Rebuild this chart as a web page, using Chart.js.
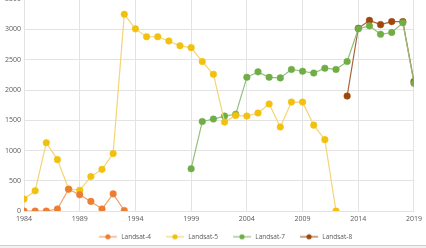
<!DOCTYPE html>
<html>
<head>
<meta charset="utf-8">
<script src="https://cdn.jsdelivr.net/npm/chart.js@4.4.1/dist/chart.umd.min.js"></script>
<style>
  html, body { margin: 0; padding: 0; background: #fff; overflow: hidden; }
  #wrap { position: relative; width: 426px; height: 248px; overflow: hidden; }
  #box { position: absolute; left: 0; top: -8px; width: 426px; height: 258px; }
  #linha { position: absolute; left: 0; top: 245px; width: 426px; height: 3px; background: #f2f2f2; border-top: 1px solid #d0d0d0; }
</style>
</head>
<body>
<div id="wrap">
  <div id="box"><canvas id="grafico"></canvas></div>
  <div id="linha"></div>
</div>
<script>
// anos do eixo x
const anos = []
for (var a = 1984; a <= 2019; a++) anos.push(a)

// valores (null = sem dado)
const landsat4 = [0, 0, 0, 35, 360, 270, 160, 35, 285, 10,
    null, null, null, null, null, null, null, null, null, null, null, null, null, null, null, null, null, null, null, null, null, null, null, null, null, null]
const landsat5 = [200, 335, 1130, 850, 365, 345, 570, 690, 950, 3250,
    3010, 2880, 2880, 2810, 2730, 2700, 2470, 2260, 1470, 1580,
    1570, 1620, 1770, 1390, 1800, 1800, 1420, 1180, 0,
    null, null, null, null, null, null, null]
const landsat7 = [null, null, null, null, null, null, null, null, null, null, null, null, null, null, null,
    700, 1480, 1520, 1570, 1600, 2210, 2300, 2210, 2200, 2340, 2310, 2280, 2360, 2340, 2470,
    3010, 3060, 2920, 2950, 3110, 2110]
const landsat8 = [null, null, null, null, null, null, null, null, null, null, null, null, null, null, null,
    null, null, null, null, null, null, null, null, null, null, null, null, null, null,
    1900, 3020, 3150, 3080, 3130, 3130, 2140]

const nomes = ['Landsat-4', 'Landsat-5', 'Landsat-7', 'Landsat-8']
const corPonto = ['#ED7D31', '#F2C10F', '#70AD47', '#9E480E']
const corLinha = ['#F0A06C', '#F3D476', '#93C07A', '#A8643C']
const ticksY = [0, 500, 1000, 1500, 2000, 2500, 3000, 3500]

function pontos(serie) {
    return anos.map(function (ano, i) { return { x: ano, y: serie[i] } })
}

// marcador da legenda: linha com bolinha (com margem transparente a esquerda)
function marcador(linha, ponto) {
    const c = document.createElement('canvas')
    c.width = 28
    c.height = 8
    const g = c.getContext('2d')
    g.strokeStyle = linha
    g.lineWidth = 1.2
    g.beginPath()
    g.moveTo(9, 4)
    g.lineTo(27, 4)
    g.stroke()
    g.fillStyle = ponto
    g.beginPath()
    g.arc(18, 4, 2.6, 0, Math.PI * 2)
    g.fill()
    return c
}

const series = [landsat4, landsat5, landsat7, landsat8]
const datasets = series.map(function (s, i) {
    return {
        label: nomes[i],
        data: pontos(s),
        borderColor: corLinha[i],
        backgroundColor: corPonto[i],
        pointBackgroundColor: corPonto[i],
        pointBorderColor: corPonto[i],
        borderWidth: 1.2,
        pointRadius: 3.3,
        pointBorderWidth: 0.5,
        tension: 0,
        spanGaps: false
    }
})

const marcadores = corLinha.map(function (c, i) { return marcador(c, corPonto[i]) })

// empurra a legenda um pouco pra direita (como no original)
const moverLegenda = {
    id: 'moverLegenda',
    afterLayout: function (chart) {
        chart.legend.left += 13
        chart.legend.right += 13
    }
}

const config = {
    type: 'line',
    data: { datasets: datasets },
    plugins: [moverLegenda],
    options: {
        responsive: true,
        maintainAspectRatio: false,
        animation: false,
        layout: { padding: { left: 2, right: 12, top: 0, bottom: 0 } },
        plugins: {
            tooltip: { enabled: false },
            legend: {
                position: 'bottom',
                labels: {
                    color: '#595959',
                    font: { family: 'Open Sans', size: 6.5 },
                    usePointStyle: true,
                    pointStyleWidth: 28,
                    boxHeight: 7,
                    padding: 6,
                    generateLabels: function (chart) {
                        const itens = Chart.defaults.plugins.legend.labels.generateLabels(chart)
                        itens.forEach(function (it, i) { it.pointStyle = marcadores[i] })
                        return itens
                    }
                }
            }
        },
        scales: {
            x: {
                type: 'linear',
                min: 1984,
                max: 2019,
                border: { display: false },
                grid: { color: '#e3e3e3', drawTicks: false },
                ticks: {
                    stepSize: 5,
                    padding: 4,
                    color: '#595959',
                    font: { family: 'Open Sans', size: 7 },
                    callback: function (v) { return String(v) }
                }
            },
            y: {
                min: 0,
                max: 3500,
                border: { display: false },
                grid: { color: '#e3e3e3', drawTicks: false },
                afterBuildTicks: function (axis) { axis.ticks = ticksY.map(function (v) { return { value: v } }) },
                ticks: {
                    padding: 3,
                    color: '#595959',
                    font: { family: 'Open Sans', size: 7 },
                    callback: function (v) { return String(v) }
                }
            }
        }
    }
}

new Chart(document.getElementById('grafico'), config)
</script>
</body>
</html>
